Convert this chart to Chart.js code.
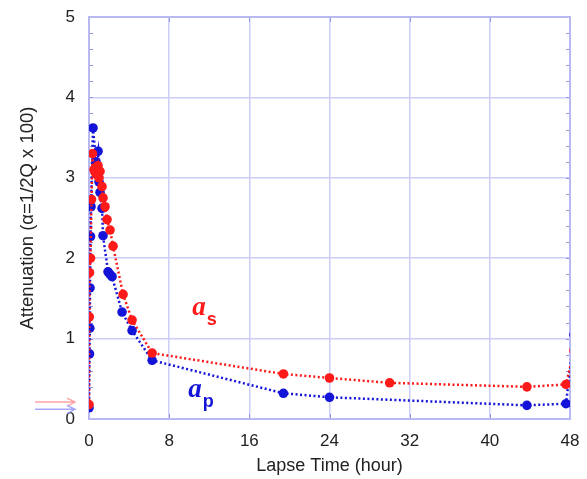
<!DOCTYPE html>
<html>
<head>
<meta charset="utf-8">
<script src="https://cdn.jsdelivr.net/npm/chart.js@4/dist/chart.umd.min.js"></script>
<style>
  html, body { margin: 0; padding: 0; background: #fff; }
  #wrap { width: 587px; height: 479px; }
</style>
</head>
<body>
<div id="wrap"><canvas id="attenuation_chart"></canvas></div>
<script>
// lapse time in hours, attenuation values (alpha = 1/2Q x 100)
var redX = [0, 0.03, 0.05, 0.15, 0.25, 0.35, 0.5, 0.7, 0.9, 1.0, 1.1, 1.3, 1.4, 1.6, 1.8, 2.1, 2.4, 3.4, 4.3, 6.3, 19.4, 24, 30, 43.7, 47.6, 48.4];
var redY = [0.18, 1.27, 1.82, 2.0, 2.73, 3.3, 3.1, 3.05, 3.15, 3.0, 3.08, 2.89, 2.75, 2.64, 2.48, 2.35, 2.15, 1.55, 1.23, 0.82, 0.56, 0.51, 0.45, 0.4, 0.43, 0.85];

var blueX = [0, 0.05, 0.08, 0.1, 0.15, 0.2, 0.4, 0.7, 0.9, 1.0, 1.1, 1.3, 1.4, 1.9, 2.1, 2.3, 3.3, 4.3, 6.3, 19.4, 24, 43.7, 47.6, 48.4];
var blueY = [0.14, 0.81, 1.13, 1.63, 2.27, 2.64, 3.62, 3.2, 3.33, 2.95, 2.82, 2.62, 2.28, 1.83, 1.8, 1.77, 1.33, 1.1, 0.73, 0.32, 0.27, 0.17, 0.19, 1.05];

var xTicks = [0, 8, 16, 24, 32, 40, 48];
var yTicks = [0, 1, 2, 3, 4, 5];

var RED = "#ff1a1a";
var BLUE = "#1414d8";
var GRID = "rgba(205, 205, 248, 1)";
var FRAME = "rgba(185, 185, 242, 1)";

function toPoints(xs, ys) {
  var pts = [];
  for (var i = 0; i < xs.length; i++) {
    pts.push({ x: xs[i], y: ys[i] });
  }
  return pts;
}

// frame, inner minor ticks, arrows and the a_s / a_p labels
var decorations = {
  id: "decorations",
  beforeDatasetsDraw: function (chart) {
    var ctx = chart.ctx;
    var a = chart.chartArea;
    var ys = chart.scales.y;
    var xs = chart.scales.x;
    ctx.save();
    ctx.strokeStyle = "rgba(150, 150, 225, 1)";
    ctx.lineWidth = 1;
    for (var v = 0.2; v < 5; v += 0.2) {
      var py = Math.round(ys.getPixelForValue(v)) + 0.5;
      ctx.beginPath();
      ctx.moveTo(a.left, py);
      ctx.lineTo(a.left + 4, py);
      ctx.moveTo(a.right - 4, py);
      ctx.lineTo(a.right, py);
      ctx.stroke();
    }
    for (var i = 1; i < xTicks.length - 1; i++) {
      var px = Math.round(xs.getPixelForValue(xTicks[i])) + 0.5;
      ctx.beginPath();
      ctx.moveTo(px, a.top);
      ctx.lineTo(px, a.top + 5);
      ctx.moveTo(px, a.bottom);
      ctx.lineTo(px, a.bottom - 5);
      ctx.stroke();
    }
    ctx.strokeStyle = FRAME;
    ctx.lineWidth = 2;
    ctx.strokeRect(a.left, a.top, a.right - a.left, a.bottom - a.top);
    ctx.restore();
  },
  afterDatasetsDraw: function (chart) {
    var ctx = chart.ctx;
    var a = chart.chartArea;
    var xs = chart.scales.x;
    var ys = chart.scales.y;
    ctx.save();

    function arrow(y, color) {
      var x0 = a.left - 54, x1 = a.left - 14;
      ctx.strokeStyle = color;
      ctx.lineWidth = 1.5;
      ctx.beginPath();
      ctx.moveTo(x0, y);
      ctx.lineTo(x1, y);
      ctx.moveTo(x1 - 8, y - 4);
      ctx.lineTo(x1, y);
      ctx.lineTo(x1 - 8, y + 4);
      ctx.stroke();
    }
    arrow(ys.getPixelForValue(0.21), "rgba(255, 165, 165, 1)");
    arrow(ys.getPixelForValue(0.12), "rgba(165, 165, 255, 1)");

    function label(xv, yv, sub, color) {
      var px = xs.getPixelForValue(xv);
      var py = ys.getPixelForValue(yv);
      ctx.fillStyle = color;
      ctx.textBaseline = "alphabetic";
      ctx.textAlign = "left";
      ctx.font = "italic bold 27px 'Liberation Serif', 'DejaVu Serif', serif";
      ctx.fillText("a", px, py);
      var w = ctx.measureText("a").width;
      ctx.font = "bold 18px 'Liberation Sans', Arial, sans-serif";
      ctx.fillText(sub, px + w + 1, py + 10);
    }
    label(10.3, 1.29, "s", RED);
    label(9.9, 0.27, "p", BLUE);
    ctx.restore();
  },
};

var canvasElement = document.getElementById("attenuation_chart");
var config = {
  type: "scatter",
  data: {
    datasets: [
      {
        label: "a_s",
        data: toPoints(redX, redY),
        showLine: true,
        borderColor: RED,
        backgroundColor: RED,
        borderWidth: 2.5,
        borderDash: [2, 2.5],
        pointRadius: 4.8,
        pointBorderWidth: 0,
        pointHoverRadius: 4.8,
      },
      {
        label: "a_p",
        data: toPoints(blueX, blueY),
        showLine: true,
        borderColor: BLUE,
        backgroundColor: BLUE,
        borderWidth: 2.5,
        borderDash: [2, 2.5],
        pointRadius: 4.8,
        pointBorderWidth: 0,
        pointHoverRadius: 4.8,
      },
    ],
  },
  options: {
    responsive: true,
    maintainAspectRatio: false,
    animation: false,
    layout: { padding: { left: 0, right: 17, top: 17, bottom: 0 } },
    plugins: {
      legend: { display: false },
      tooltip: { enabled: false },
    },
    scales: {
      x: {
        type: "linear",
        min: 0,
        max: 48,
        afterBuildTicks: function (scale) {
          scale.ticks = xTicks.map(function (v) { return { value: v }; });
        },
        afterFit: function (scale) {
          scale.height = 60;
          scale.paddingLeft = 0;
          scale.paddingRight = 0;
        },
        grid: { color: GRID, lineWidth: 1.5, drawTicks: false },
        border: { display: false },
        ticks: {
          padding: 12,
          color: "#222",
          font: { family: "'Liberation Sans', Arial, sans-serif", size: 17 },
        },
        title: {
          display: true,
          text: "Lapse Time (hour)",
          color: "#222",
          padding: { top: 0, bottom: 2 },
          font: { family: "'Liberation Sans', Arial, sans-serif", size: 18 },
        },
      },
      y: {
        type: "linear",
        min: 0,
        max: 5,
        afterBuildTicks: function (scale) {
          scale.ticks = yTicks.map(function (v) { return { value: v }; });
        },
        afterFit: function (scale) {
          scale.width = 89;
          scale.paddingTop = 0;
          scale.paddingBottom = 0;
        },
        grid: { color: GRID, lineWidth: 1.5, drawTicks: false },
        border: { display: false },
        ticks: {
          padding: 14,
          color: "#222",
          font: { family: "'Liberation Sans', Arial, sans-serif", size: 17 },
        },
        title: {
          display: true,
          text: "Attenuation (\u03b1=1/2Q x 100)",
          color: "#222",
          padding: { top: 17, bottom: 0 },
          font: { family: "'Liberation Sans', Arial, sans-serif", size: 18.5 },
        },
      },
    },
  },
  plugins: [decorations],
};

var attenuation_chart = new Chart(canvasElement, config);
</script>
</body>
</html>
